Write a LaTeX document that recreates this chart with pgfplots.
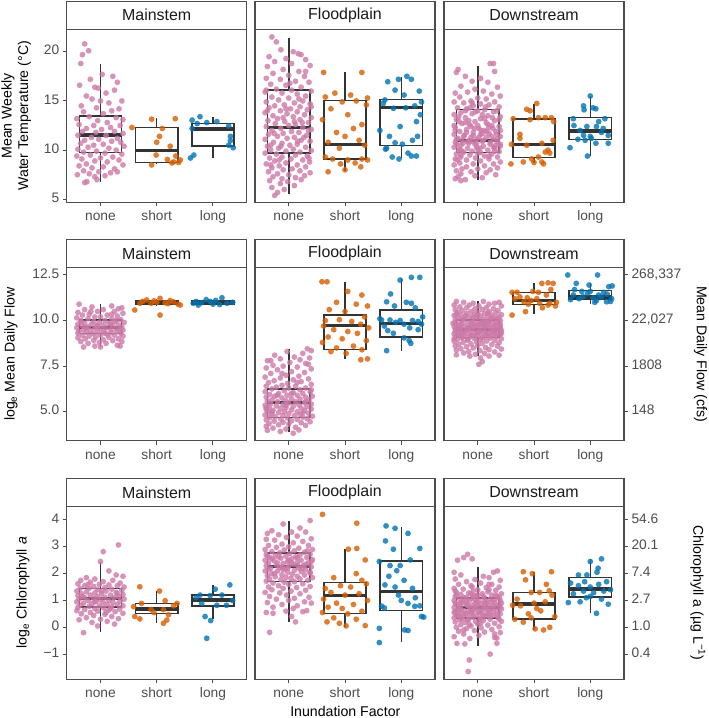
\documentclass[border=0pt]{standalone}
\usepackage{fontspec}
\setmainfont{Liberation Sans}
\usepackage{pgfplots}
\pgfplotsset{compat=1.18}
\usepgfplotslibrary{statistics}
\definecolor{pk}{HTML}{CC79A7}
\definecolor{og}{HTML}{D55E00}
\definecolor{bl}{HTML}{0072B2}
\definecolor{frm}{HTML}{4D4D4D}
\definecolor{bxc}{HTML}{333333}
\definecolor{tlab}{HTML}{4D4D4D}
\definecolor{strt}{HTML}{1A1A1A}
\pgfplotsset{
  panel/.style={
    scale only axis, width=180bp, height=173bp,
    xmin=0.4, xmax=3.6,
    xtick={1,2,3}, xticklabels={none,short,long},
    xtick pos=left, ytick pos=left,
    tick align=outside, major tick length=4bp,
    axis line style={draw=frm, line width=1.1bp},
    every tick/.append style={draw=frm, line width=1bp},
    tick label style={font=\fontsize{13.8}{16}\selectfont, text=tlab},
    typeset ticklabels with strut,
    anchor=south west,
  },
  pts/.style={only marks, mark=*, color=#1, mark size=2.9bp, mark options={draw opacity=0, fill=#1, fill opacity=0.8}},
  bx/.style={draw=bxc, line width=1.5bp, solid, mark=none, boxplot/draw direction=y, boxplot/box extend=0.75, boxplot/whisker extend=0, boxplot/every median/.style={line width=3.5bp}},
}
\newcommand{\bxp}[6]{\addplot[bx, boxplot prepared={draw position=#1, lower whisker=#2, lower quartile=#3, median=#4, upper quartile=#5, upper whisker=#6}] coordinates {};}
\newcommand{\strip}[3]{\draw[frm, line width=1.1bp, fill=white] (#1bp,#2bp) rectangle ++(180bp,28bp);
  \node[font=\fontsize{16}{18}\selectfont, text=strt] at (#1bp+90bp,#2bp+14bp) {#3};}
\begin{document}
\begin{tikzpicture}
\useasboundingbox (0bp,0bp) rectangle (709bp,-718bp);
% ================= ROW 1: temperature =================
\begin{axis}[panel, at={(66.7bp,-202.3bp)}, ymin=4.70, ymax=22.28, ytick={5,10,15,20}, yticklabels={5,10,15,20}]
\addplot[pts=pk] coordinates {(0.72,20.8)(0.79,20.1)(0.68,19.7)(0.65,18.8)(1.03,17.7)(1.22,17.5)(0.82,17.2)(1.3,16.9)(0.63,16.6)(0.9,16.4)(0.96,16.3)(1.25,16.1)(1.1,15.8)(0.75,15.5)(1.38,15.0)(0.85,15.2)(1.0,15.0)(1.15,14.8)(0.66,14.5)(0.93,14.3)(1.33,14.2)(1.2,14.0)(0.7,13.9)(1.05,13.7)(0.58,13.2)(0.8,13.4)(1.28,13.3)(1.4,13.1)(0.95,13.0)(1.12,12.8)(0.62,12.6)(0.88,12.5)(1.35,12.5)(1.18,12.3)(0.75,12.2)(1.02,12.1)(0.68,11.9)(1.25,11.9)(0.92,11.8)(1.4,11.7)(0.6,11.5)(1.1,11.5)(0.84,11.3)(1.3,11.2)(0.97,11.1)(0.72,11.0)(1.2,10.9)(1.36,10.8)(0.65,10.7)(1.05,10.6)(0.88,10.5)(1.42,10.4)(0.78,10.3)(1.15,10.2)(0.6,10.1)(1.28,10.0)(0.93,9.9)(0.7,9.8)(1.08,9.7)(1.38,9.6)(0.82,9.5)(0.58,9.4)(1.22,9.3)(1.0,9.2)(0.67,9.1)(1.33,9.0)(0.9,8.9)(1.12,8.8)(0.75,8.6)(1.4,8.5)(0.62,8.4)(1.05,8.3)(0.85,8.2)(1.25,8.1)(0.7,7.9)(0.97,7.8)(1.18,7.7)(0.8,7.6)(0.59,7.5)(1.08,7.4)(0.9,7.3)(0.76,6.8)(0.72,6.7)(0.94,7.0)(1.3,7.8)};
\addplot[pts=og] coordinates {(1.91,13.15)(2.33,13.2)(1.56,12.3)(2.1,12.2)(2.05,11.4)(2.0,10.8)(2.24,10.4)(1.99,9.5)(2.34,9.4)(2.19,9.05)(2.27,8.7)(1.91,8.5)(2.39,8.75)(2.42,9.0)(2.3,8.8)};
\addplot[pts=bl] coordinates {(2.77,13.4)(2.63,13.05)(2.72,12.7)(2.89,12.8)(3.07,12.9)(2.63,12.2)(3.28,12.45)(3.31,11.4)(3.31,10.95)(3.28,10.5)(3.36,10.25)(2.66,9.5)(2.6,9.2)};
\bxp{1}{6.79}{9.74}{11.53}{13.47}{18.72}
\bxp{2}{8.6}{8.76}{9.94}{12.28}{13.23}
\bxp{3}{9.23}{10.42}{12.14}{12.72}{13.33}
\end{axis}
\strip{66.7}{-29.3}{Mainstem}
\begin{axis}[panel, at={(255bp,-202.3bp)}, ymin=4.70, ymax=22.28, ytick=\empty]
\addplot[pts=pk] coordinates {(0.7,21.5)(0.78,21.0)(0.86,20.2)(1.08,20.0)(1.17,19.8)(0.65,19.5)(1.22,19.7)(0.95,19.3)(0.75,19.0)(1.3,19.2)(1.05,18.8)(0.62,18.5)(1.38,18.6)(0.9,18.2)(1.18,18.0)(0.72,17.8)(1.0,17.6)(1.28,17.5)(0.6,17.3)(0.85,17.2)(1.12,17.0)(1.36,16.9)(0.68,16.7)(0.95,16.6)(1.22,16.4)(0.78,16.2)(1.05,16.1)(1.4,16.0)(0.58,15.9)(0.88,15.8)(1.15,15.7)(1.3,15.5)(0.7,15.4)(1.0,15.3)(0.82,15.1)(1.25,15.0)(0.6,14.9)(1.1,14.8)(1.38,14.7)(0.92,14.6)(0.75,14.5)(1.2,14.4)(0.65,14.3)(1.03,14.2)(1.33,14.1)(0.85,14.0)(1.15,13.9)(0.58,13.8)(0.97,13.7)(1.28,13.6)(0.72,13.5)(1.08,13.4)(1.4,13.3)(0.8,13.2)(1.2,13.1)(0.63,13.0)(0.93,12.9)(1.35,12.8)(0.76,12.7)(1.12,12.6)(1.0,12.5)(0.6,12.4)(1.25,12.3)(0.86,12.2)(1.4,12.1)(0.7,12.0)(1.05,11.9)(1.18,11.8)(0.9,11.7)(0.64,11.6)(1.32,11.5)(0.8,11.4)(1.1,11.3)(0.97,11.2)(0.58,11.1)(1.22,11.0)(1.38,10.9)(0.73,10.8)(0.88,10.7)(1.15,10.6)(1.02,10.5)(0.62,10.4)(1.3,10.3)(0.82,10.2)(1.08,10.1)(0.68,10.0)(1.4,9.95)(0.95,9.9)(1.2,9.8)(0.58,9.7)(0.78,9.6)(1.12,9.5)(1.33,9.4)(0.88,9.3)(0.66,9.2)(1.04,9.1)(1.25,9.0)(0.75,8.9)(1.37,8.8)(0.95,8.7)(0.6,8.6)(1.15,8.5)(0.83,8.4)(1.3,8.3)(0.7,8.2)(1.06,8.1)(0.9,8.0)(1.2,7.9)(0.64,7.8)(1.38,7.7)(0.8,7.6)(1.0,7.5)(1.28,7.4)(0.72,7.3)(1.12,7.2)(0.88,7.1)(1.22,7.0)(0.66,6.9)(0.98,6.8)(0.85,6.6)(1.1,6.4)(0.7,6.2)(0.92,6.0)(0.8,5.7)(0.75,5.4)(1.35,12.0)(1.18,15.2)(0.6,16.1)(1.3,18.0)(0.68,10.5)(1.1,12.9)(0.95,14.2)(1.27,11.3)(0.83,9.0)(0.62,14.0)(0.9,13.3)(1.16,10.9)(1.36,9.2)(0.74,11.7)(1.02,16.8)(1.24,12.8)(0.68,8.5)(1.4,14.4)(0.86,10.4)};
\addplot[pts=og] coordinates {(1.62,17.9)(2.3,17.9)(1.82,15.8)(2.1,15.6)(1.65,15.4)(2.4,15.3)(2.2,15.0)(1.95,14.9)(2.38,14.6)(1.75,14.2)(2.05,13.6)(1.6,13.1)(2.3,12.6)(2.15,12.2)(1.85,11.8)(2.0,11.4)(2.25,11.0)(1.7,10.8)(2.35,10.5)(1.9,10.2)(1.65,9.3)(1.78,9.1)(2.05,9.0)(2.3,9.1)(2.4,9.0)(2.18,8.7)(1.92,8.6)(2.28,8.3)(1.7,7.8)(2.0,8.0)};
\addplot[pts=bl] coordinates {(2.76,16.95)(2.95,17.2)(3.1,17.5)(3.18,17.2)(2.89,16.1)(3.32,16.0)(3.05,15.6)(2.71,15.1)(2.68,14.75)(3.36,14.9)(3.24,14.5)(2.86,14.25)(3.08,14.3)(3.27,12.9)(2.98,12.4)(2.79,11.4)(3.29,11.4)(2.74,10.2)(2.89,10.75)(3.02,10.6)(3.12,9.7)(3.18,9.4)(3.27,9.4)(2.96,9.1)(2.72,10.1)(3.34,13.6)(2.62,12.0)(3.2,11.0)(2.84,9.3)};
\bxp{1}{5.5}{9.71}{12.28}{16.1}{21.42}
\bxp{2}{7.9}{9.1}{10.59}{15.02}{17.94}
\bxp{3}{9.17}{10.49}{14.31}{15.16}{17.46}
\end{axis}
\strip{255}{-29.3}{Floodplain}
\begin{axis}[panel, at={(444bp,-202.3bp)}, ymin=4.70, ymax=22.28, ytick=\empty]
\addplot[pts=pk] coordinates {(1.22,18.8)(1.28,18.8)(0.65,18.2)(1.3,18.0)(0.62,17.9)(0.78,17.5)(1.05,17.3)(0.9,17.0)(1.18,16.9)(0.7,16.5)(1.35,16.4)(0.95,16.2)(1.1,16.0)(0.6,15.8)(0.82,15.9)(1.25,15.7)(1.4,15.5)(0.68,15.4)(1.0,15.3)(1.15,15.2)(0.88,15.0)(0.58,14.9)(1.3,14.9)(0.75,14.8)(1.05,14.7)(1.2,14.6)(0.92,14.5)(1.38,14.4)(0.64,14.3)(0.8,14.2)(1.12,14.1)(1.0,14.0)(1.28,13.9)(0.7,13.8)(0.58,13.6)(0.9,13.7)(1.18,13.5)(1.4,13.4)(0.78,13.3)(1.05,13.2)(0.62,13.1)(1.3,13.0)(0.95,12.9)(1.15,12.8)(0.72,12.7)(0.85,12.6)(1.25,12.5)(1.38,12.4)(0.6,12.3)(1.02,12.2)(0.8,12.1)(1.12,12.0)(0.68,11.9)(1.32,11.9)(0.92,11.8)(1.2,11.7)(0.58,11.6)(1.05,11.6)(0.76,11.5)(1.4,11.4)(0.88,11.3)(1.15,11.3)(0.65,11.2)(1.28,11.1)(0.98,11.1)(0.72,11.0)(1.08,10.9)(1.35,10.8)(0.6,10.8)(0.84,10.7)(1.22,10.6)(0.95,10.6)(0.7,10.5)(1.4,10.4)(1.1,10.4)(0.58,10.3)(0.82,10.2)(1.3,10.2)(1.0,10.1)(0.66,10.0)(1.18,10.0)(0.9,9.9)(1.38,9.85)(0.75,9.8)(1.05,9.75)(0.62,9.6)(1.25,9.6)(0.86,9.5)(1.12,9.4)(0.7,9.3)(1.35,9.3)(0.96,9.2)(0.6,9.1)(1.2,9.1)(0.8,9.0)(1.05,8.9)(1.4,8.8)(0.68,8.7)(0.92,8.6)(1.28,8.6)(0.58,8.5)(1.12,8.4)(0.8,8.3)(1.35,8.2)(0.72,8.1)(1.0,8.1)(1.22,8.0)(0.62,7.9)(0.88,7.8)(1.15,7.7)(0.7,7.6)(1.32,7.5)(0.65,7.3)(0.95,7.4)(0.6,7.1)(0.78,7.0)(0.7,6.9)(1.08,7.2)(0.85,11.0)(1.0,12.5)(1.27,12.2)(0.67,12.9)(1.08,13.6)(0.9,10.9)(1.2,9.4)(0.78,14.0)(1.33,11.6)(0.63,10.6)(1.16,11.9)(0.98,10.3)(1.38,13.1)(0.72,9.9)(0.6,12.0)(0.75,11.4)(0.88,12.4)(1.02,11.3)(1.18,12.6)(1.32,10.5)(0.66,13.4)(0.82,10.9)(0.96,13.9)(1.1,11.0)(1.26,13.3)(1.4,12.0)(0.7,9.5)(0.86,14.3)(1.0,9.7)(1.14,14.4)(1.3,9.9)(0.62,11.1)(0.78,12.8)(0.92,11.5)(1.06,12.0)(1.22,10.8)(1.36,11.2)(0.68,10.1)(0.84,13.0)(0.98,10.7)(1.12,13.2)(1.28,10.3)(0.58,12.5)(0.74,10.7)(0.9,14.8)(1.04,10.2)(1.2,12.3)(1.34,14.0)(0.64,9.0)(0.8,11.8)(0.94,12.2)(1.08,11.7)(1.24,11.4)(1.4,10.6)};
\addplot[pts=og] coordinates {(2.05,14.75)(1.87,14.15)(1.93,14.0)(1.63,13.2)(2.08,13.3)(2.2,13.3)(2.31,13.3)(1.93,13.1)(1.75,11.6)(1.75,11.2)(1.6,10.6)(1.87,10.5)(2.14,10.7)(2.25,10.0)(2.28,9.7)(2.2,9.8)(2.08,9.3)(1.96,9.1)(2.14,8.8)(1.81,8.8)(1.59,8.6)(2.0,8.75)(2.17,8.6)(2.34,11.0)(2.35,12.9)};
\addplot[pts=bl] coordinates {(3.0,15.5)(2.88,14.5)(3.05,14.3)(3.1,14.2)(2.89,14.1)(2.7,13.2)(3.26,13.2)(2.71,12.5)(2.94,12.4)(3.11,12.4)(2.82,12.0)(3.23,12.2)(2.88,11.5)(3.32,11.5)(3.0,11.4)(2.64,10.25)(2.91,11.0)(3.1,10.7)(3.32,10.7)(2.95,9.4)(3.02,11.2)(3.2,11.8)(2.78,11.1)(3.15,12.9)};
\bxp{1}{6.96}{9.74}{10.96}{14.15}{18.58}
\bxp{2}{8.66}{9.23}{10.55}{13.19}{14.65}
\bxp{3}{9.4}{11.1}{11.94}{13.33}{15.47}
\end{axis}
\strip{444}{-29.3}{Downstream}
% ================= ROW 2: flow =================
\begin{axis}[panel, at={(66.7bp,-440.7bp)}, ymin=3.41, ymax=12.90, ytick={5,7.5,10,12.5}, yticklabels={5.0,7.5,10.0,12.5}]
\addplot[pts=pk] coordinates {(0.62,10.9)(0.85,10.75)(1.2,10.8)(1.32,10.65)(1.38,10.7)(0.72,10.6)(1.05,10.6)(0.95,10.5)(1.25,10.5)(0.6,10.45)(1.4,10.4)(0.8,10.35)(1.12,10.3)(0.68,10.3)(1.3,10.25)(0.9,10.2)(1.0,10.2)(0.58,10.15)(1.2,10.1)(0.78,10.1)(1.36,10.05)(1.08,10.0)(0.65,10.0)(0.88,9.95)(1.25,9.95)(0.98,9.9)(1.42,9.9)(0.72,9.85)(1.15,9.85)(0.6,9.8)(0.84,9.8)(1.32,9.75)(1.05,9.75)(0.93,9.7)(0.68,9.7)(1.22,9.7)(1.38,9.65)(0.78,9.65)(1.1,9.6)(0.58,9.6)(0.9,9.58)(1.28,9.55)(1.0,9.55)(0.7,9.5)(1.18,9.5)(1.4,9.48)(0.82,9.45)(0.62,9.42)(1.06,9.42)(1.3,9.4)(0.95,9.38)(0.75,9.35)(1.2,9.35)(1.36,9.3)(0.6,9.3)(0.87,9.28)(1.12,9.25)(1.0,9.22)(0.68,9.2)(1.25,9.2)(1.4,9.15)(0.8,9.15)(0.92,9.1)(1.15,9.08)(0.6,9.05)(1.32,9.0)(0.73,9.0)(1.05,8.95)(0.88,8.92)(1.22,8.9)(0.65,8.85)(1.38,8.85)(0.98,8.8)(0.78,8.75)(1.1,8.75)(1.3,8.65)(0.9,8.6)(1.35,8.6)(0.7,8.55)(1.0,8.55)(1.18,9.8)(0.74,9.6)(1.28,10.0)(0.95,9.7)(1.08,9.3)(0.66,9.95)(1.35,9.5)(0.83,10.5)(1.2,10.35)};
\addplot[pts=og] coordinates {(1.61,10.58)(2.06,10.3)(1.82,11.13)(2.06,11.22)(2.24,11.1)(2.42,10.85)(1.7,10.95)(1.9,10.95)(2.0,11.0)(2.15,10.98)(2.3,11.02)(1.75,11.05)(2.38,10.9)(1.95,11.08)(2.2,10.93)};
\addplot[pts=bl] coordinates {(3.16,11.25)(2.88,11.15)(2.74,10.85)(2.65,10.95)(2.8,10.98)(3.0,10.9)(3.05,11.1)(3.25,10.95)(3.35,11.0)(2.95,11.05)(3.12,10.88)(2.7,11.05)};
\bxp{1}{8.57}{9.3}{9.63}{10.03}{10.89}
\bxp{2}{10.82}{10.9}{10.99}{11.08}{11.2}
\bxp{3}{10.85}{10.9}{10.98}{11.06}{11.15}
\end{axis}
\strip{66.7}{-267.7}{Mainstem}
\begin{axis}[panel, at={(255bp,-440.7bp)}, ymin=3.41, ymax=12.90, ytick=\empty]
\addplot[pts=pk] coordinates {(1.33,8.45)(1.4,8.35)(0.97,8.3)(1.25,8.2)(0.75,8.1)(1.1,8.0)(1.37,7.95)(0.85,7.9)(1.2,7.85)(0.62,7.8)(1.02,7.7)(1.3,7.65)(0.72,7.55)(0.9,7.5)(1.15,7.45)(0.6,7.4)(1.4,7.35)(0.8,7.3)(1.05,7.2)(1.28,7.15)(0.68,7.1)(0.95,7.0)(1.18,6.95)(0.58,6.9)(0.85,6.85)(1.35,6.8)(1.08,6.75)(0.74,6.7)(1.22,6.65)(0.64,6.6)(0.98,6.55)(1.4,6.5)(0.88,6.45)(1.12,6.4)(0.6,6.4)(0.78,6.35)(1.3,6.3)(1.0,6.3)(0.7,6.25)(1.2,6.2)(0.92,6.15)(1.38,6.1)(0.58,6.1)(1.08,6.05)(0.82,6.0)(1.25,6.0)(0.66,5.95)(0.97,5.9)(1.15,5.9)(1.42,5.85)(0.75,5.85)(0.6,5.8)(1.3,5.8)(0.88,5.75)(1.05,5.72)(1.2,5.7)(0.7,5.65)(1.36,5.65)(0.95,5.6)(0.62,5.58)(1.12,5.55)(0.8,5.55)(1.28,5.5)(1.0,5.48)(0.68,5.45)(1.4,5.42)(0.9,5.4)(1.18,5.38)(0.58,5.35)(0.78,5.32)(1.08,5.3)(1.32,5.28)(0.65,5.25)(0.95,5.22)(1.22,5.2)(0.85,5.18)(1.4,5.15)(0.6,5.12)(1.05,5.1)(0.72,5.08)(1.28,5.05)(0.92,5.02)(1.15,5.0)(0.63,4.98)(0.82,4.95)(1.35,4.92)(1.0,4.9)(0.7,4.88)(1.2,4.85)(0.58,4.82)(0.9,4.8)(1.1,4.78)(1.42,4.75)(0.76,4.72)(1.25,4.7)(0.66,4.68)(0.98,4.65)(1.33,4.62)(0.86,4.6)(1.15,4.58)(0.6,4.55)(1.05,4.5)(0.74,4.48)(1.38,4.45)(0.9,4.42)(1.22,4.4)(0.65,4.35)(1.0,4.32)(0.82,4.28)(1.3,4.25)(0.6,4.2)(1.12,4.15)(0.72,4.1)(0.95,4.05)(0.62,3.98)(1.18,4.0)(0.85,3.92)(1.08,3.82)(1.3,5.55)(0.7,5.0)(1.05,6.0)(0.8,5.9)(1.25,4.95)(0.95,5.35)(1.4,6.2)(0.6,5.2)(1.15,6.6)(0.88,7.1)(1.35,7.6)(0.68,7.8)};
\addplot[pts=og] coordinates {(1.59,12.13)(1.68,12.13)(2.05,11.6)(2.3,11.4)(1.85,11.0)(2.2,10.9)(2.4,10.8)(1.72,10.6)(2.0,10.5)(2.35,10.2)(1.65,10.0)(1.9,10.05)(2.12,9.95)(2.28,9.8)(1.62,9.7)(2.42,9.6)(1.8,9.5)(2.05,9.4)(2.22,9.3)(1.7,9.1)(1.95,9.0)(2.38,8.9)(1.6,8.8)(2.15,8.6)(1.85,8.5)(2.3,8.4)(1.75,8.3)(2.02,8.2)(2.4,7.9)(2.28,7.85)};
\addplot[pts=bl] coordinates {(3.18,12.37)(3.33,12.37)(2.98,12.22)(2.81,11.46)(2.74,11.03)(3.09,11.0)(3.18,10.95)(2.88,10.8)(3.25,10.7)(2.65,10.03)(2.8,10.03)(2.98,10.0)(3.2,10.0)(3.3,9.95)(2.7,9.7)(2.86,9.3)(3.15,9.6)(3.17,8.75)(3.14,8.9)(2.74,8.35)(3.3,9.5)(2.9,9.9)(3.05,9.8)(2.76,9.45)(3.36,9.8)(3.05,9.05)(2.62,10.1)(3.38,10.2)};
\bxp{1}{3.87}{4.67}{5.51}{6.25}{8.42}
\bxp{2}{7.89}{8.42}{9.72}{10.3}{12.1}
\bxp{3}{8.35}{9.11}{9.85}{10.58}{12.32}
\end{axis}
\strip{255}{-267.7}{Floodplain}
\begin{axis}[panel, at={(444bp,-440.7bp)}, ymin=3.41, ymax=12.90, ytick pos=right, yticklabel pos=right, ytick={5,7.5,10,12.5}, yticklabels={148,1808,{22,027},{268,337}}]
\addplot[pts=pk] coordinates {(0.62,11.05)(0.75,11.0)(0.92,10.95)(1.1,11.05)(1.3,10.95)(1.38,11.0)(0.58,10.85)(0.85,10.85)(1.2,10.9)(1.02,10.8)(0.68,10.75)(1.42,10.8)(1.15,10.7)(0.8,10.7)(0.95,10.65)(1.28,10.65)(0.6,10.6)(1.08,10.6)(1.36,10.55)(0.72,10.55)(0.88,10.5)(1.2,10.5)(1.0,10.45)(0.64,10.45)(1.32,10.4)(0.8,10.4)(1.12,10.38)(0.94,10.35)(1.42,10.32)(0.7,10.3)(1.25,10.3)(0.58,10.28)(1.05,10.25)(0.85,10.22)(1.18,10.2)(1.38,10.18)(0.65,10.15)(0.98,10.15)(0.76,10.12)(1.3,10.1)(1.1,10.08)(0.6,10.05)(0.9,10.05)(1.22,10.02)(1.4,10.0)(0.7,10.0)(1.03,9.98)(0.82,9.95)(1.15,9.93)(0.6,9.9)(1.33,9.9)(0.95,9.88)(0.72,9.85)(1.25,9.85)(1.08,9.82)(0.88,9.8)(1.4,9.78)(0.64,9.76)(1.18,9.75)(1.0,9.72)(0.78,9.7)(1.3,9.7)(0.58,9.68)(1.12,9.66)(0.92,9.64)(1.38,9.62)(0.7,9.6)(1.22,9.6)(1.04,9.58)(0.84,9.56)(0.62,9.54)(1.33,9.52)(1.15,9.5)(0.96,9.5)(0.75,9.48)(1.42,9.46)(1.05,9.44)(0.6,9.42)(1.25,9.42)(0.88,9.4)(1.12,9.38)(0.7,9.36)(1.36,9.35)(0.98,9.33)(0.8,9.3)(1.2,9.3)(0.58,9.28)(1.06,9.26)(1.4,9.24)(0.9,9.22)(0.68,9.2)(1.28,9.2)(1.15,9.18)(0.76,9.15)(1.0,9.14)(0.6,9.12)(1.34,9.1)(0.86,9.1)(1.1,9.07)(0.72,9.05)(1.22,9.04)(0.94,9.02)(1.42,9.0)(0.64,8.98)(1.04,8.95)(0.82,8.92)(1.3,8.9)(1.16,8.88)(0.58,8.86)(0.98,8.84)(0.74,8.8)(1.38,8.78)(1.08,8.75)(0.88,8.72)(0.66,8.7)(1.25,8.68)(1.0,8.64)(0.6,8.6)(1.35,8.6)(0.8,8.56)(1.14,8.52)(0.92,8.5)(0.7,8.46)(1.42,8.44)(1.2,8.4)(0.62,8.38)(1.04,8.35)(0.84,8.3)(1.3,8.28)(0.75,8.22)(1.12,8.2)(0.96,8.15)(0.62,8.12)(1.38,8.1)(0.86,8.05)(1.2,8.05)(1.05,7.95)(1.08,7.75)(1.02,7.6)(0.9,9.6)(1.15,9.8)(0.72,9.3)(1.32,9.2)(1.0,10.3)(0.66,9.72)(1.25,10.15)(0.82,8.98)(1.4,9.55)(0.56,9.85)(0.6,9.55)(0.7,9.75)(0.8,9.45)(0.9,9.9)(1.0,9.35)(1.1,9.7)(1.2,9.95)(1.3,9.45)(1.4,9.65)(0.65,9.25)(0.75,10.05)(0.85,9.65)(0.95,9.15)(1.05,9.85)(1.15,9.25)(1.25,9.55)(1.35,10.1)(0.62,10.35)(0.72,9.1)(0.82,9.6)(0.92,10.2)(1.02,9.4)(1.12,9.95)(1.22,9.15)(1.32,9.8)(1.42,9.3)(0.58,9.0)(0.68,9.5)(0.78,10.25)(0.88,9.2)(0.98,9.75)(1.08,9.05)(1.18,10.4)(1.28,9.4)(1.38,9.9)};
\addplot[pts=og] coordinates {(2.14,12.04)(2.25,12.07)(2.34,12.04)(1.61,11.55)(1.7,11.55)(1.82,11.03)(1.85,10.49)(1.61,10.3)(2.08,11.55)(2.22,11.4)(2.28,10.95)(2.4,11.0)(2.25,10.85)(1.95,11.1)(2.05,11.2)(1.75,11.3)(2.15,10.7)(1.9,10.9)(2.3,11.7)(1.98,11.6)(2.38,10.8)(1.66,11.2)(2.1,10.95)(1.88,11.25)};
\addplot[pts=bl] coordinates {(2.6,12.5)(3.13,12.5)(2.75,12.04)(2.98,11.95)(3.33,11.86)(3.39,11.9)(3.24,11.55)(2.87,11.31)(3.29,11.03)(3.11,11.1)(2.7,11.4)(2.8,11.2)(2.95,11.5)(3.05,11.25)(3.2,11.3)(3.38,11.2)(2.65,11.15)(3.0,11.6)(3.15,11.4)(2.85,11.6)(3.3,11.45)(2.72,11.7)(3.08,11.0)(3.36,11.05)};
\bxp{1}{8.07}{9.06}{9.52}{10.03}{11.07}
\bxp{2}{10.34}{10.89}{11.09}{11.55}{12.04}
\bxp{3}{10.91}{11.17}{11.31}{11.64}{12.04}
\end{axis}
\strip{444}{-267.7}{Downstream}
% ================= ROW 3: chlorophyll =================
\begin{axis}[panel, at={(66.7bp,-679.3bp)}, ymin=-1.94, ymax=4.51, ytick={-1,0,1,2,3,4}, yticklabels={−1,0,1,2,3,4}]
\addplot[pts=pk] coordinates {(1.32,3.07)(1.05,2.82)(1.0,2.45)(1.15,2.1)(1.28,1.95)(0.75,1.85)(1.4,1.9)(0.9,1.8)(0.65,1.75)(1.22,1.75)(1.05,1.7)(0.82,1.68)(1.35,1.65)(0.6,1.62)(0.98,1.6)(1.15,1.58)(0.72,1.55)(1.3,1.55)(0.88,1.52)(1.42,1.5)(1.08,1.48)(0.64,1.45)(0.8,1.45)(1.2,1.42)(0.95,1.4)(1.38,1.38)(0.58,1.35)(1.1,1.35)(0.75,1.32)(1.28,1.3)(0.9,1.28)(1.02,1.25)(0.66,1.25)(1.4,1.22)(1.18,1.2)(0.82,1.2)(0.6,1.18)(0.95,1.15)(1.32,1.15)(1.08,1.12)(0.72,1.1)(1.24,1.1)(0.88,1.08)(1.42,1.05)(0.62,1.05)(1.0,1.02)(1.15,1.0)(0.78,1.0)(1.35,0.98)(0.92,0.96)(0.58,0.95)(1.22,0.93)(1.05,0.92)(0.7,0.9)(0.85,0.88)(1.3,0.86)(1.12,0.85)(0.64,0.82)(0.98,0.8)(1.4,0.8)(0.8,0.78)(1.2,0.76)(0.6,0.74)(1.06,0.72)(0.9,0.7)(1.34,0.68)(0.72,0.66)(1.15,0.64)(0.58,0.62)(0.95,0.6)(1.26,0.58)(0.82,0.55)(1.4,0.52)(0.66,0.5)(1.08,0.48)(0.88,0.44)(1.2,0.4)(0.75,0.36)(1.32,0.32)(1.0,0.3)(0.62,0.28)(1.12,0.22)(0.85,0.18)(1.25,0.12)(0.95,0.05)(0.7,-0.2)(1.18,0.7)(0.78,1.6)(1.02,1.35)(0.68,1.15)(1.3,1.25)(0.9,0.95)(1.1,0.55)};
\addplot[pts=og] coordinates {(1.7,1.51)(2.05,1.35)(1.59,0.77)(1.73,0.89)(2.15,0.99)(2.36,0.89)(1.7,0.31)(1.61,0.4)(1.9,0.66)(2.12,0.66)(2.21,0.47)(2.12,0.15)(2.18,0.27)(2.3,0.8)(1.95,0.55)};
\addplot[pts=bl] coordinates {(3.3,1.58)(3.04,1.42)(2.77,1.2)(2.95,1.18)(3.16,1.2)(2.8,0.89)(3.07,0.82)(3.24,0.82)(2.86,0.4)(2.96,0.25)(2.89,-0.41)(3.35,1.0)(2.7,1.1)};
\bxp{1}{-0.19}{0.75}{1.08}{1.45}{2.45}
\bxp{2}{0.15}{0.52}{0.68}{0.89}{1.36}
\bxp{3}{0.3}{0.79}{1.02}{1.2}{1.58}
\end{axis}
\strip{66.7}{-506.3}{Mainstem}
\begin{axis}[panel, at={(255bp,-679.3bp)}, ymin=-1.94, ymax=4.51, ytick=\empty]
\addplot[pts=pk] coordinates {(1.38,3.98)(0.9,3.85)(1.2,3.7)(0.7,3.6)(1.05,3.55)(0.62,3.5)(1.3,3.55)(0.82,3.45)(1.15,3.4)(0.96,3.35)(1.4,3.3)(0.6,3.28)(0.75,3.25)(1.25,3.2)(1.08,3.15)(0.88,3.1)(0.64,3.05)(1.35,3.05)(1.0,3.0)(0.78,2.98)(1.18,2.95)(0.58,2.9)(1.42,2.9)(0.92,2.88)(1.1,2.85)(0.7,2.82)(1.28,2.8)(0.84,2.78)(1.02,2.75)(0.6,2.72)(1.38,2.72)(1.2,2.7)(0.76,2.68)(0.95,2.65)(1.12,2.62)(0.66,2.6)(1.32,2.6)(0.86,2.58)(1.05,2.55)(1.42,2.52)(0.58,2.5)(1.22,2.5)(0.74,2.48)(0.98,2.45)(1.15,2.42)(0.64,2.4)(1.35,2.4)(0.9,2.38)(1.08,2.35)(0.78,2.32)(1.26,2.3)(0.6,2.3)(1.0,2.28)(1.4,2.25)(0.84,2.22)(1.18,2.2)(0.68,2.2)(0.94,2.18)(1.3,2.15)(1.1,2.12)(0.58,2.1)(0.8,2.1)(1.22,2.08)(0.98,2.05)(1.38,2.02)(0.7,2.0)(1.06,1.98)(0.88,1.96)(1.28,1.95)(0.62,1.92)(1.15,1.9)(0.76,1.88)(0.95,1.86)(1.42,1.85)(1.04,1.82)(0.66,1.8)(1.2,1.8)(0.86,1.78)(1.34,1.75)(0.6,1.72)(1.1,1.7)(0.92,1.68)(0.72,1.65)(1.25,1.62)(1.0,1.6)(0.82,1.55)(1.38,1.52)(0.64,1.5)(1.14,1.48)(0.9,1.45)(0.7,1.4)(1.3,1.38)(1.04,1.35)(0.58,1.3)(0.84,1.28)(1.2,1.25)(0.96,1.2)(0.66,1.15)(1.36,1.12)(1.1,1.08)(0.78,1.05)(1.0,1.0)(1.28,0.95)(0.62,0.92)(1.4,0.9)(0.88,0.85)(1.15,0.8)(0.72,0.75)(1.08,0.7)(1.32,0.62)(0.95,0.6)(0.6,0.55)(0.72,0.52)(1.25,0.58)(1.05,0.4)(1.12,0.2)(0.66,-0.19)(1.3,2.35)(0.75,2.0)(1.15,2.6)(0.9,2.15)(1.0,2.5)(0.62,2.65)(1.38,2.05)(0.8,2.4)(0.7,2.55)(0.88,2.25)(1.05,2.4)(1.24,2.2)(1.4,2.45)(0.64,2.15)(0.82,2.62)(0.98,2.2)(1.16,2.3)(1.33,2.85)};
\addplot[pts=og] coordinates {(1.6,4.21)(2.21,3.88)(2.06,2.91)(2.21,2.94)(2.36,2.51)(2.2,2.0)(1.8,1.85)(2.3,1.75)(1.65,1.45)(1.92,1.55)(2.1,1.5)(2.38,1.62)(1.75,1.3)(2.0,1.2)(2.25,1.25)(1.62,1.05)(2.4,1.0)(1.85,0.9)(2.15,0.85)(1.7,0.75)(1.95,0.7)(2.3,0.6)(1.6,0.55)(2.05,0.5)(1.8,0.35)(2.2,0.3)(1.68,0.2)(1.9,0.15)(2.36,0.06)(2.02,0.05)};
\addplot[pts=bl] coordinates {(2.73,3.78)(2.89,3.69)(3.12,3.5)(3.33,2.94)(2.72,3.22)(2.86,2.91)(3.16,2.51)(2.61,2.45)(2.8,2.3)(2.98,2.3)(2.92,2.11)(2.71,1.58)(2.89,1.5)(3.2,1.45)(3.05,1.75)(2.95,1.2)(3.25,1.1)(3.12,0.89)(3.24,0.78)(2.65,0.79)(3.33,0.8)(2.7,0.72)(3.36,0.4)(3.4,0.38)(2.61,-0.04)(3.06,-0.1)(3.12,-0.12)(2.61,-0.57)(3.0,1.0)(2.78,1.9)};
\bxp{1}{0.21}{1.7}{2.26}{2.76}{3.97}
\bxp{2}{0.02}{0.52}{1.18}{1.66}{2.91}
\bxp{3}{-0.54}{0.62}{1.33}{2.48}{3.75}
\end{axis}
\strip{255}{-506.3}{Floodplain}
\begin{axis}[panel, at={(444bp,-679.3bp)}, ymin=-1.94, ymax=4.51, ytick pos=right, yticklabel pos=right, ytick={-1,0,1,2,3,4}, yticklabels={0.4,1.0,2.7,7.4,20.1,54.6}]
\addplot[pts=pk] coordinates {(0.82,2.72)(0.75,2.6)(0.64,2.5)(0.9,2.55)(0.58,2.05)(1.28,2.05)(1.35,2.1)(0.7,1.95)(1.1,1.9)(1.2,1.85)(0.6,1.8)(0.95,1.78)(1.4,1.75)(0.8,1.7)(1.05,1.65)(0.66,1.6)(1.25,1.6)(0.88,1.55)(1.38,1.5)(1.15,1.48)(0.58,1.45)(0.74,1.42)(1.0,1.4)(1.32,1.38)(0.92,1.35)(1.18,1.32)(0.62,1.3)(0.84,1.28)(1.42,1.25)(1.08,1.25)(0.7,1.22)(1.25,1.2)(0.97,1.18)(0.6,1.15)(1.35,1.15)(0.8,1.12)(1.12,1.1)(0.9,1.08)(0.68,1.05)(1.22,1.05)(1.02,1.02)(1.4,1.0)(0.58,1.0)(0.85,0.98)(1.15,0.96)(0.74,0.94)(1.3,0.92)(0.95,0.9)(1.06,0.88)(0.62,0.86)(1.38,0.85)(0.8,0.84)(1.2,0.82)(0.9,0.8)(0.7,0.78)(1.1,0.78)(1.32,0.76)(0.58,0.74)(1.0,0.74)(0.86,0.72)(1.25,0.7)(0.66,0.7)(1.42,0.68)(1.14,0.66)(0.94,0.65)(0.76,0.62)(1.04,0.6)(1.35,0.6)(0.6,0.58)(0.88,0.56)(1.2,0.55)(0.7,0.52)(1.08,0.5)(1.4,0.5)(0.82,0.48)(0.98,0.46)(0.62,0.44)(1.28,0.44)(1.15,0.42)(0.74,0.4)(0.92,0.38)(1.36,0.36)(0.58,0.35)(1.04,0.34)(0.84,0.3)(1.22,0.3)(0.68,0.28)(1.1,0.25)(0.96,0.22)(1.42,0.22)(0.6,0.2)(0.78,0.18)(1.3,0.15)(1.0,0.12)(0.7,0.1)(1.18,0.08)(0.88,0.05)(1.38,0.02)(0.62,0.0)(1.06,-0.02)(0.8,-0.05)(1.25,-0.08)(0.94,-0.12)(0.66,-0.15)(1.12,-0.18)(1.4,-0.2)(0.75,-0.25)(1.02,-0.3)(0.58,-0.35)(1.3,-0.38)(0.86,-0.42)(0.63,-0.6)(0.77,-0.62)(1.34,-0.6)(1.34,-0.4)(1.22,-1.0)(0.85,-1.22)(0.83,-1.65)(0.9,0.6)(1.15,0.9)(0.72,0.95)(1.28,0.58)(1.0,1.2)(0.64,0.65)(1.38,1.1)(0.82,0.28)(1.1,0.45)(0.96,0.72)(1.2,1.4)(0.7,0.38)(0.6,0.9)(0.7,0.65)(0.8,1.0)(0.9,0.45)(1.0,0.85)(1.1,1.15)(1.2,0.65)(1.3,1.05)(1.4,0.75)(0.65,0.45)(0.75,1.1)(0.85,0.6)(0.95,1.05)(1.05,0.3)(1.15,0.75)(1.25,0.95)(1.35,0.45)(0.62,1.2)(0.72,0.3)(0.82,0.82)(0.92,1.15)(1.02,0.55)(1.12,0.95)(1.22,0.4)(1.32,1.2)(1.42,0.9)(0.58,0.55)(0.68,0.88)(0.78,0.5)(0.88,1.25)(0.98,0.95)(1.08,0.68)(1.18,0.5)(1.28,0.8)(1.38,0.3)(0.6,1.35)(0.9,1.5)(1.2,1.6)(0.75,-0.1)(1.05,0.15)(1.3,-0.25)(0.85,0.1)};
\addplot[pts=og] coordinates {(1.81,2.07)(1.97,2.0)(2.31,2.07)(1.85,1.77)(1.95,1.3)(2.1,1.3)(2.27,1.36)(1.76,0.8)(2.12,0.61)(1.81,0.19)(2.02,-0.06)(2.17,-0.1)(2.28,0.0)(2.37,0.4)(1.62,0.82)(2.0,0.9)(2.2,0.95)(1.7,1.05)(2.05,0.7)(1.9,0.5)(2.32,1.2)(1.66,0.3)(2.22,1.6)(1.95,0.35)};
\addplot[pts=bl] coordinates {(3.2,2.55)(3.0,2.45)(3.14,2.2)(2.79,1.95)(2.94,1.95)(3.12,2.05)(2.9,1.7)(3.29,1.7)(2.65,1.65)(2.79,1.55)(3.06,1.29)(3.24,1.35)(3.0,1.15)(2.61,0.92)(2.82,0.95)(3.32,0.86)(3.11,0.52)(2.93,1.1)(3.2,1.05)(3.36,1.4)(2.7,1.25)(3.0,1.5)(3.15,1.6)(2.88,1.35)};
\bxp{1}{-0.69}{0.35}{0.73}{1.1}{2.24}
\bxp{2}{-0.1}{0.3}{0.86}{1.29}{2.05}
\bxp{3}{0.54}{1.12}{1.43}{1.86}{2.53}
\end{axis}
\strip{444}{-506.3}{Downstream}
% ================= titles =================
\tikzset{ttl/.style={font=\fontsize{14.2}{16.5}\selectfont, text=black}}
\node[ttl, rotate=90, align=center] at (16.3bp,-115.8bp) {Mean Weekly\\Water Temperature (°C)};
\node[ttl, rotate=90] at (11bp,-354.2bp) {log\textsubscript{e} Mean Daily Flow};
\node[ttl, rotate=90] at (23bp,-592.8bp) {log\textsubscript{e} Chlorophyll \textit{a}};
\node[ttl, rotate=-90] at (700.5bp,-354.2bp) {Mean Daily Flow (cfs)};
\node[ttl, rotate=-90] at (698bp,-592.8bp) {Chlorophyll a (µg L\textsuperscript{−1})};
\node[ttl, anchor=base] at (345.3bp,-716bp) {Inundation Factor};
\end{tikzpicture}
\end{document}
